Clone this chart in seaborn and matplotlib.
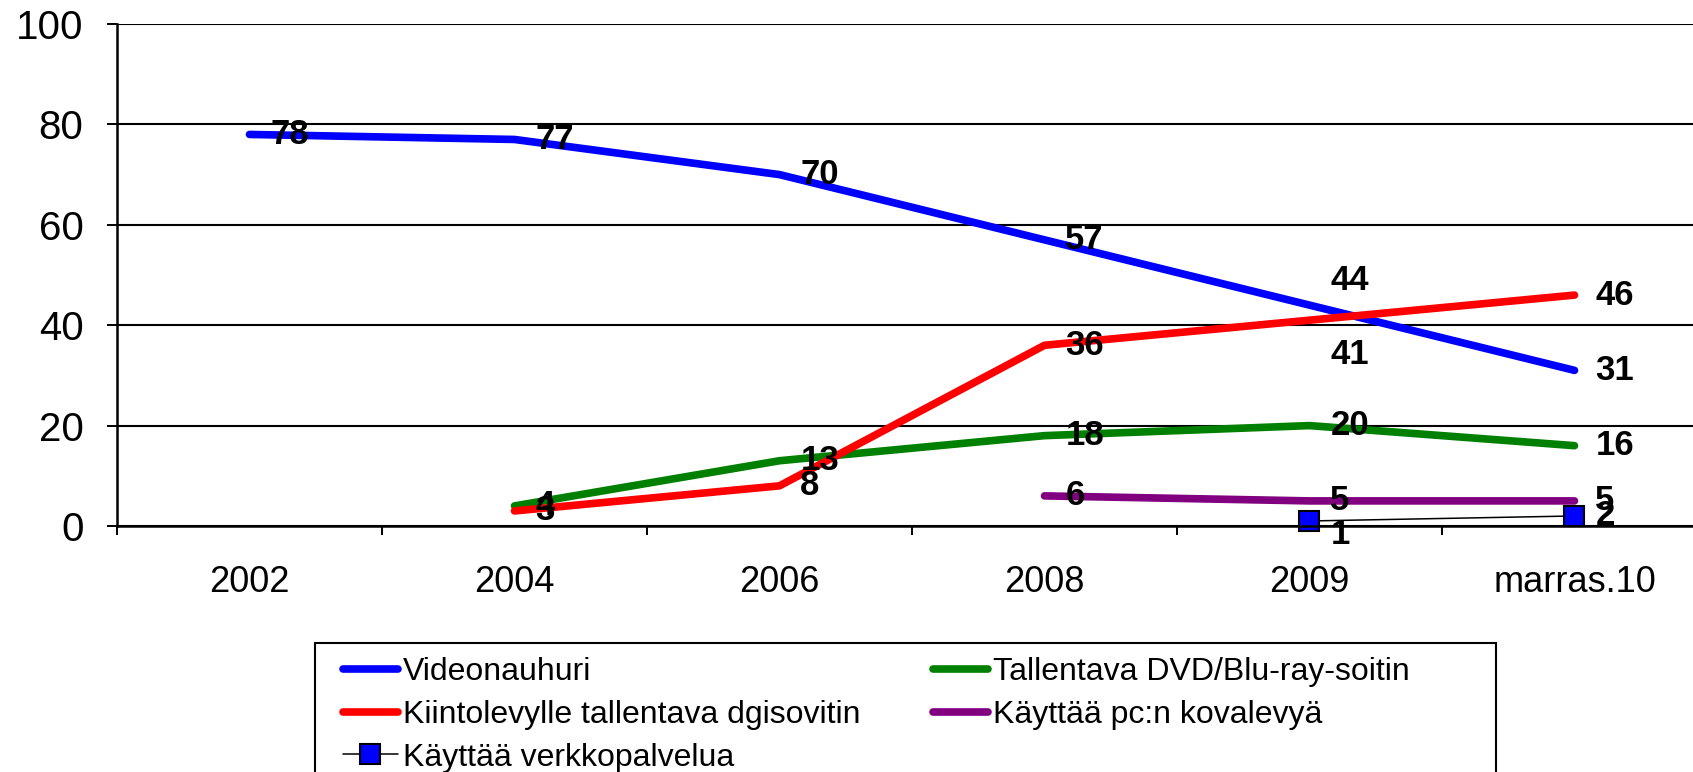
import matplotlib
matplotlib.use("Agg")
import matplotlib.pyplot as plt
from matplotlib.patches import Rectangle
import seaborn as sns
import pandas as pd
import numpy as np

# Chart data
periods = ["2002", "2004", "2006", "2008", "2009", "marras.10"]
videonauhuri = [78, 77, 70, 57, 44, 31]
dvd_bluray = [np.nan, 4, 13, 18, 20, 16]
kiintolevy = [np.nan, 3, 8, 36, 41, 46]
pc_kovalevy = [np.nan, np.nan, np.nan, 6, 5, 5]
verkkopalvelu = [np.nan, np.nan, np.nan, np.nan, 1, 2]

series_names = ["Videonauhuri", "Tallentava DVD/Blu-ray-soitin",
                "Kiintolevylle tallentava dgisovitin", "Käyttää pc:n kovalevyä",
                "Käyttää verkkopalvelua"]
series_values = [videonauhuri, dvd_bluray, kiintolevy, pc_kovalevy, verkkopalvelu]
series_colors = ["#0000FF", "#008000", "#FF0000", "#800080", "#000000"]

# manual nudges of some data labels (points, vertical)
label_nudge = {("Videonauhuri", "2009"): 18,
               ("Kiintolevylle tallentava dgisovitin", "2009"): -25,
               ("Käyttää verkkopalvelua", "2009"): -10}

sns.set_style("white")
plt.rcParams["font.family"] = ["Liberation Sans", "DejaVu Sans"]
plt.rcParams["text.color"] = "black"

W, H = 1693, 772
fig = plt.figure(figsize=(W / 100, H / 100), dpi=100)
ax = fig.add_axes([117 / W, 1 - 526 / H, 1590 / W, 502 / H])

x_pos = np.arange(len(periods))
for name, vals, col in zip(series_names, series_values, series_colors):
    df = pd.DataFrame({"x": x_pos, "y": vals}).dropna()
    if name == "Käyttää verkkopalvelua":
        sns.lineplot(data=df, x="x", y="y", ax=ax, color="black", lw=1.1,
                     marker="s", markersize=14, markerfacecolor="#0000FF",
                     markeredgecolor="black", markeredgewidth=1.5,
                     label=name, legend=False, clip_on=False)
    else:
        sns.lineplot(data=df, x="x", y="y", ax=ax, color=col, lw=5.5,
                     solid_capstyle="round", label=name, legend=False)
    for xi, yi in zip(df["x"], df["y"]):
        dy = label_nudge.get((name, periods[xi]), 0)
        ax.annotate(f"{yi:.0f}", (xi, yi), xytext=(15, dy), textcoords="offset points",
                    ha="left", va="center", fontsize=25, fontweight="bold",
                    color="black", zorder=10)

ax.set_xlim(-0.5, len(periods) - 0.5)
ax.set_ylim(0, 100)
ax.set_yticks(range(0, 101, 20))
ax.set_xticks(x_pos)
ax.set_xticklabels(periods)
ax.set_xticks(np.arange(-0.5, len(periods), 1), minor=True)
ax.set_xlabel("")
ax.set_ylabel("")

ax.tick_params(axis="y", which="major", left=True, length=7.2, width=1.4,
               direction="out", pad=17, labelsize=29, colors="black")
ax.tick_params(axis="x", which="major", bottom=True, length=0, pad=28,
               labelsize=26, colors="black")
ax.tick_params(axis="x", which="minor", bottom=True, length=6.5, width=1.4,
               direction="out", color="black")

ax.yaxis.grid(True, color="black", lw=1.5)
ax.xaxis.grid(False)
ax.set_axisbelow(True)
for side in ["top", "right"]:
    ax.spines[side].set_visible(False)
for side in ["left", "bottom"]:
    ax.spines[side].set_color("black")
    ax.spines[side].set_linewidth(1.8)

# legend box
fig.add_artist(Rectangle((315 / W, -0.1), (1496 - 315) / W, 1 - 643 / H + 0.1,
                         transform=fig.transFigure, facecolor="none",
                         edgecolor="black", lw=1.5))

handles = {l.get_label(): l for l in ax.lines}
leg_kw = dict(loc="upper left", frameon=False, fontsize=23, handlelength=1.72,
              handletextpad=0.15, labelspacing=0.4, borderpad=0, borderaxespad=0,
              labelcolor="black")
col1 = ["Videonauhuri", "Kiintolevylle tallentava dgisovitin", "Käyttää verkkopalvelua"]
col2 = ["Tallentava DVD/Blu-ray-soitin", "Käyttää pc:n kovalevyä"]
fig.legend(handles=[handles[n] for n in col1], labels=col1,
           bbox_to_anchor=(343 / W, 1 - 657 / H), **leg_kw)
fig.legend(handles=[handles[n] for n in col2], labels=col2,
           bbox_to_anchor=(933 / W, 1 - 657 / H), **leg_kw)

fig.savefig("out.png", dpi=100)
